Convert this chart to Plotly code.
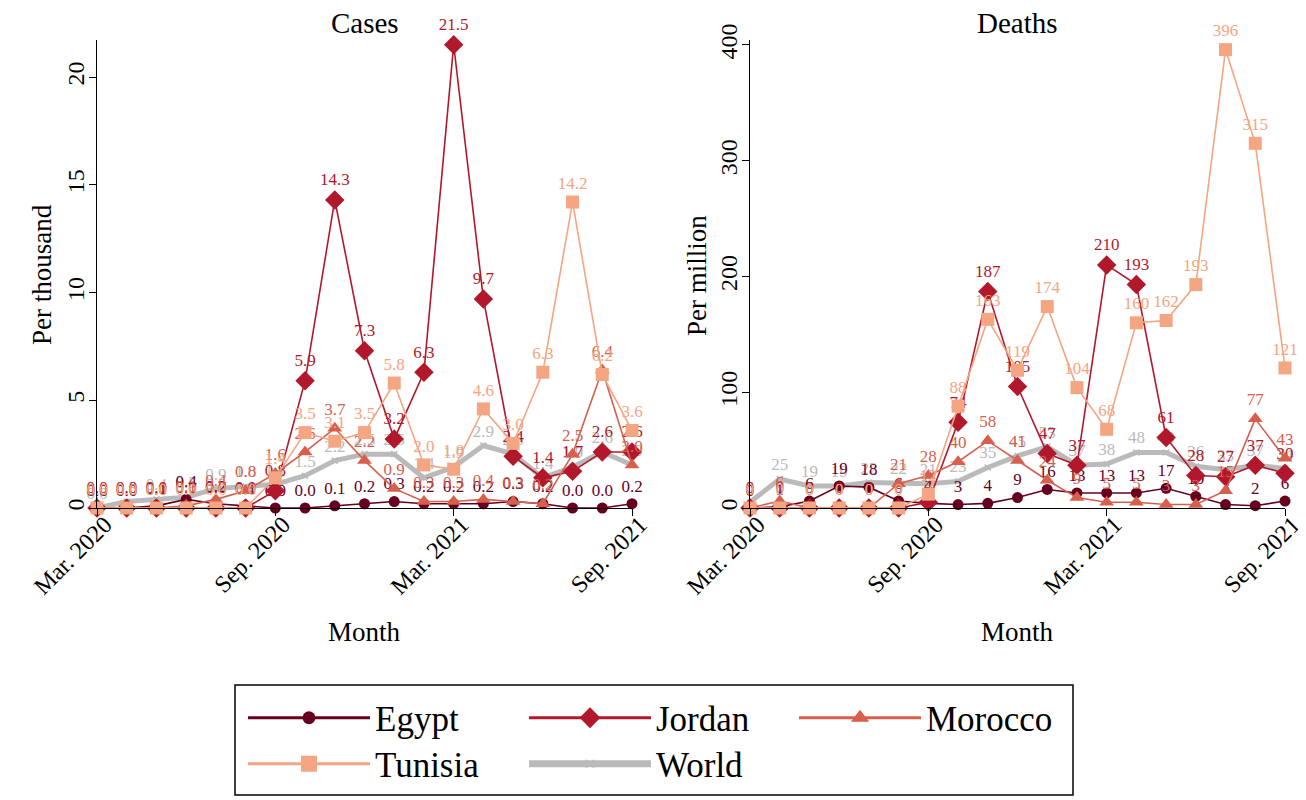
import plotly.graph_objects as go

months = ["Mar. 2020", "Apr. 2020", "May 2020", "Jun. 2020", "Jul. 2020", "Aug. 2020",
          "Sep. 2020", "Oct. 2020", "Nov. 2020", "Dec. 2020", "Jan. 2021", "Feb. 2021",
          "Mar. 2021", "Apr. 2021", "May 2021", "Jun. 2021", "Jul. 2021", "Aug. 2021",
          "Sep. 2021"]
tick_labels = ["Mar. 2020", "Sep. 2020", "Mar. 2021", "Sep. 2021"]

countries = ["Egypt", "Jordan", "Morocco", "Tunisia", "World"]

# Cases per thousand
cases_egypt = [0.0, 0.0, 0.1, 0.4, 0.2, 0.1, 0.0, 0.0, 0.1, 0.2, 0.3, 0.2, 0.2, 0.2, 0.3, 0.2, 0.0, 0.0, 0.2]
cases_jordan = [0.0, 0.0, 0.0, 0.0, 0.0, 0.0, 0.8, 5.9, 14.3, 7.3, 3.2, 6.3, 21.5, 9.7, 2.4, 1.4, 1.7, 2.6, 2.6]
cases_morocco = [0.0, 0.0, 0.0, 0.1, 0.4, 0.8, 1.6, 2.6, 3.7, 2.2, 0.9, 0.3, 0.3, 0.4, 0.3, 0.2, 2.5, 6.4, 2.0]
cases_tunisia = [0.0, 0.0, 0.0, 0.0, 0.0, 0.0, 1.4, 3.5, 3.1, 3.5, 5.8, 2.0, 1.8, 4.6, 3.0, 6.3, 14.2, 6.2, 3.6]
cases_world = [0.0, 0.3, 0.4, 0.5, 0.9, 1.0, 1.1, 1.5, 2.2, 2.5, 2.5, 1.4, 1.9, 2.9, 2.5, 1.4, 1.9, 2.6, 2.0]

# Deaths per million
deaths_egypt = [0, 1, 6, 19, 18, 6, 4, 3, 4, 9, 16, 13, 13, 13, 17, 10, 3, 2, 6]
deaths_jordan = [0, 0, 0, 0, 0, 0, 5, 74, 187, 105, 47, 37, 210, 193, 61, 28, 27, 37, 30]
deaths_morocco = [0, 6, 0, 0, 0, 21, 28, 40, 58, 41, 24, 9, 5, 5, 3, 3, 15, 77, 43]
deaths_tunisia = [0, 0, 0, 0, 0, 0, 12, 88, 163, 119, 174, 104, 68, 160, 162, 193, 396, 315, 121]
deaths_world = [5, 25, 19, 19, 22, 22, 21, 23, 35, 45, 53, 37, 38, 48, 48, 36, 33, 37, 34]

cases = {"Egypt": cases_egypt, "Jordan": cases_jordan, "Morocco": cases_morocco,
         "Tunisia": cases_tunisia, "World": cases_world}
deaths = {"Egypt": deaths_egypt, "Jordan": deaths_jordan, "Morocco": deaths_morocco,
          "Tunisia": deaths_tunisia, "World": deaths_world}

colors = {"Egypt": "#67001F", "Jordan": "#B2182B", "Morocco": "#D6604D",
          "Tunisia": "#F4A582", "World": "#BABABA"}
symbols = {"Egypt": "circle", "Jordan": "diamond", "Morocco": "triangle-up",
           "Tunisia": "square", "World": "x-thin"}
msize = {"Egypt": 11, "Jordan": 15, "Morocco": 13, "Tunisia": 13, "World": 6}
lwidth = {"Egypt": 1.6, "Jordan": 1.6, "Morocco": 1.6, "Tunisia": 1.6, "World": 5}
# legend key styling (bigger than in-plot marks, like the reference key)
leg_msize = {"Egypt": 13, "Jordan": 19, "Morocco": 16, "Tunisia": 16, "World": 8}
leg_lwidth = {"Egypt": 3, "Jordan": 3, "Morocco": 3, "Tunisia": 3, "World": 7}
legend_of = {"Egypt": "legend", "Jordan": "legend2", "Morocco": "legend3",
             "Tunisia": "legend4", "World": "legend5"}

FONT = "Liberation Serif"
# page body has an 8px margin; figure coordinates = screen coordinates - 8
W, H = 1298, 792
OFF = 8


def px(X):
    return (X - OFF) / W


def py(Y):
    return 1 - (Y - OFF) / H


fig = go.Figure()

draw_order = ["World", "Egypt", "Jordan", "Morocco", "Tunisia"]
for panel, data, fmt, xa, ya in [(0, cases, "{:.1f}", "x", "y"), (1, deaths, "{:.0f}", "x2", "y2")]:
    for c in draw_order:
        vals = data[c]
        fig.add_trace(go.Scatter(
            x=months, y=vals, xaxis=xa, yaxis=ya,
            mode="lines+markers+text",
            name=c,
            line=dict(color=colors[c], width=lwidth[c]),
            marker=dict(symbol=symbols[c], size=msize[c], color=colors[c],
                        line=dict(color=colors[c], width=1.5 if c == "World" else 0)),
            text=[fmt.format(v) for v in vals],
            textposition="top center",
            textfont=dict(family=FONT, size=17, color=colors[c]),
            cliponaxis=False,
            showlegend=False,
            hoverinfo="skip",
        ))

# legend-only key entries (no data drawn)
for c in countries:
    fig.add_trace(go.Scatter(
        x=[None], y=[None], mode="lines+markers", name=c,
        line=dict(color=colors[c], width=leg_lwidth[c]),
        marker=dict(symbol=symbols[c], size=leg_msize[c], color=colors[c],
                    line=dict(color=colors[c], width=1.5 if c == "World" else 0)),
        legend=legend_of[c], showlegend=True, hoverinfo="skip",
    ))

x0a, x1a = px(97), px(632)
x0b, x1b = px(750), px(1285)
ybot, ytop = py(508), py(40)

axis_common = dict(showline=True, linecolor="black", linewidth=1, ticks="outside",
                   ticklen=7, tickcolor="black", showgrid=False, zeroline=False,
                   automargin=False,
                   tickfont=dict(family=FONT, size=24, color="black"))

for xa, dom in [("xaxis", (x0a, x1a)), ("xaxis2", (x0b, x1b))]:
    fig.update_layout({xa: dict(
        domain=list(dom), type="category", categoryorder="array", categoryarray=months,
        range=[0, len(months) - 1], tickmode="array", tickvals=tick_labels, ticktext=tick_labels,
        tickangle=-45, ticklabelshift=8, ticklabelstandoff=-15,
        anchor="y" if xa == "xaxis" else "y2",
        **axis_common)})

fig.update_layout(
    yaxis=dict(domain=[ybot, ytop], range=[0, 21.72], tickvals=[0, 5, 10, 15, 20],
               tickangle=-90, ticklabelstandoff=-5, anchor="x", **axis_common),
    yaxis2=dict(domain=[ybot, ytop], range=[0, 404.3], tickvals=[0, 100, 200, 300, 400],
                tickangle=-90, ticklabelstandoff=-5, anchor="x2", **axis_common),
)

titles = [("Cases", (x0a + x1a) / 2, py(23), 0, 29),
          ("Deaths", (x0b + x1b) / 2, py(23), 0, 29),
          ("Month", (x0a + x1a) / 2, py(632), 0, 27),
          ("Month", (x0b + x1b) / 2, py(632), 0, 27),
          ("Per thousand", px(42), py(275), -90, 27),
          ("Per million", px(697), py(275), -90, 27)]
for t, x, y, ang, sz in titles:
    fig.add_annotation(text=t, x=x, y=y, xref="paper", yref="paper", showarrow=False,
                       xanchor="center", yanchor="middle", textangle=ang,
                       font=dict(family=FONT, size=sz, color="black"))

# legend frame
fig.add_shape(type="rect", xref="paper", yref="paper",
              x0=px(235), x1=px(1073), y0=py(795), y1=py(685),
              line=dict(color="black", width=1.5), fillcolor="rgba(0,0,0,0)")

leg_common = dict(orientation="h", xanchor="left", yanchor="middle",
                  itemsizing="trace", itemwidth=122,
                  bgcolor="rgba(0,0,0,0)", borderwidth=0,
                  font=dict(family=FONT, size=35, color="black"))
leg_pos = {"legend": (243, 718), "legend2": (524, 718), "legend3": (794, 718),
           "legend4": (243, 764), "legend5": (524, 764)}
fig.update_layout({k: dict(x=px(X), y=py(Y), **leg_common) for k, (X, Y) in leg_pos.items()})

fig.update_layout(width=W, height=H, margin=dict(l=0, r=0, t=0, b=0, autoexpand=False),
                  paper_bgcolor="white", plot_bgcolor="white",
                  font=dict(family=FONT, color="black"))

fig.write_html("out.html")
